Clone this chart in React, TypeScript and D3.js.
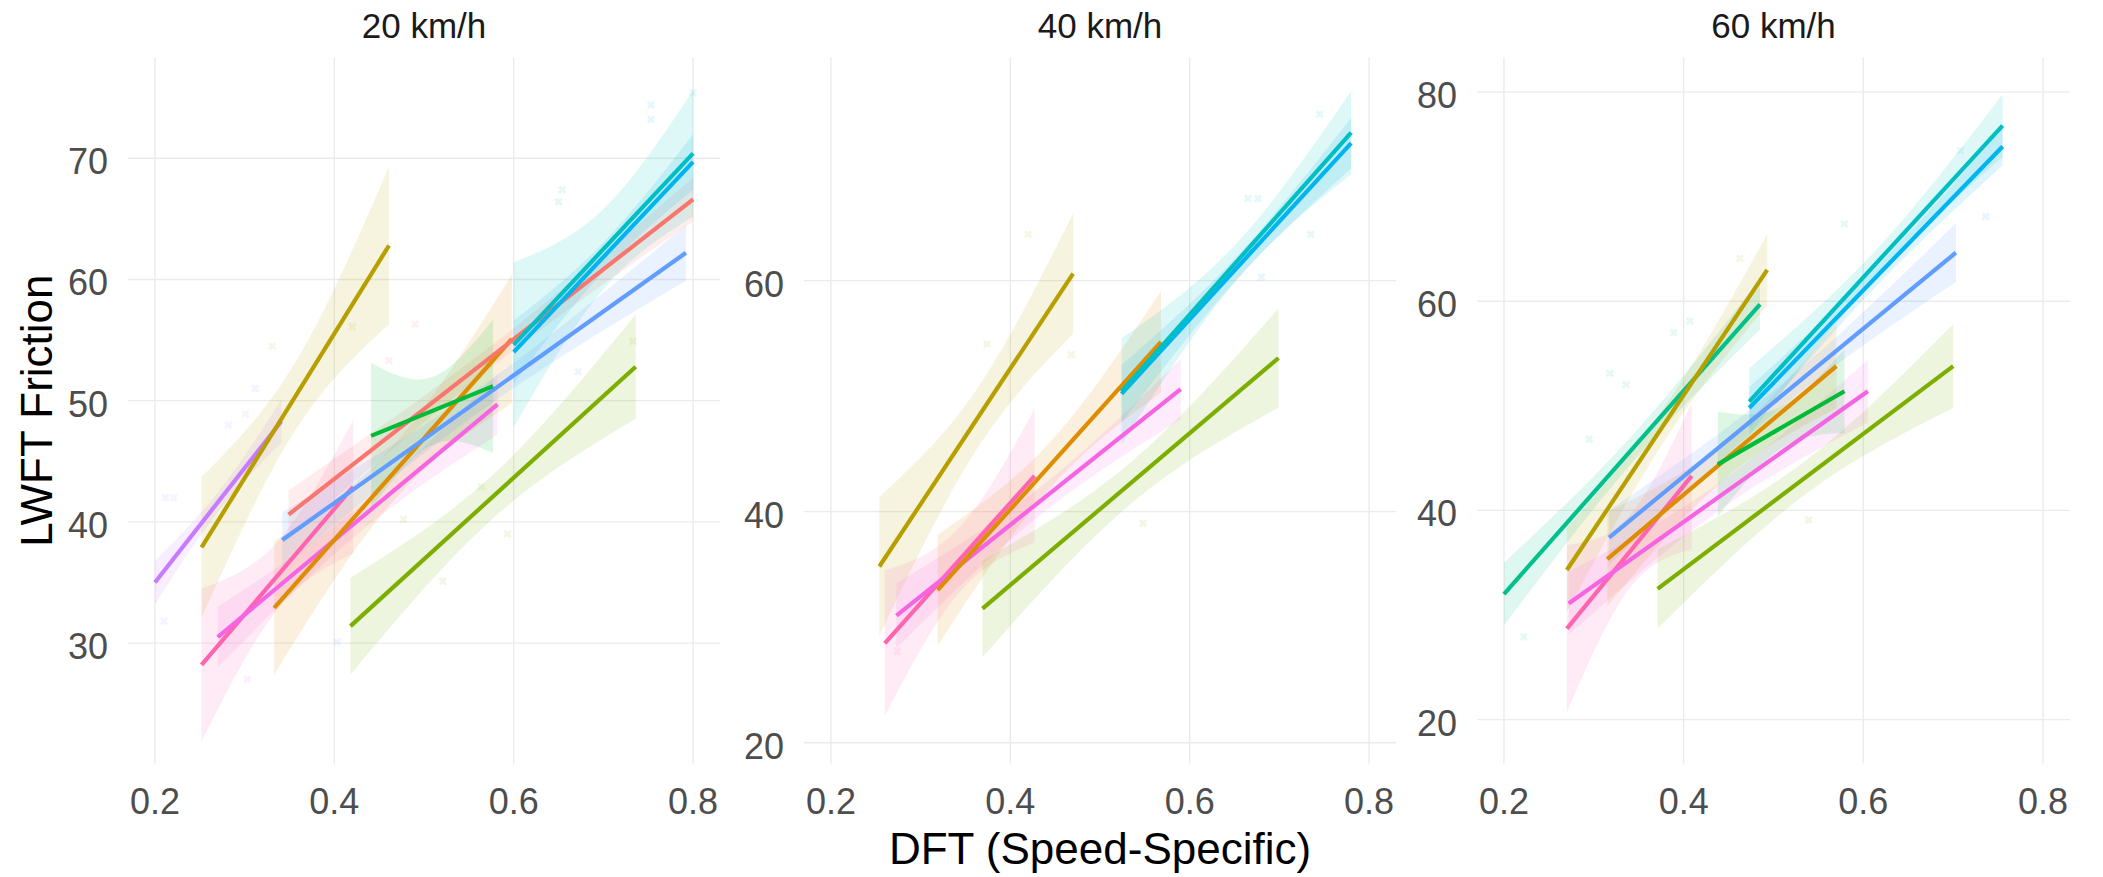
import React from "react";
import * as d3 from "d3";

// ---------- data ----------
const PANEL_TITLES = ["20 km/h", "40 km/h", "60 km/h"];
const GROUP_COLORS = [
  "#F8766D", "#DE8C00", "#B79F00", "#7CAE00", "#00BA38", "#00C08B",
  "#00BFC4", "#00B4F0", "#619CFF", "#C77CFF", "#F564E3", "#FF64B0",
];
const X_DOMAIN = [0.17, 0.83];
const X_TICKS = [0.2, 0.4, 0.6, 0.8];
const Y_DOMAIN_20 = [20.07, 78.3];
const Y_DOMAIN_40 = [18.2, 79.3];
const Y_DOMAIN_60 = [15.8, 83.3];
const Y_TICKS_20 = [30, 40, 50, 60, 70];
const Y_TICKS_40 = [20, 40, 60];
const Y_TICKS_60 = [20, 40, 60, 80];

// fitted lines: [group, x0, y0, x1, y1, seStart, seMid, seEnd]
const FITS_20 = [
  [9, 0.2, 35.0, 0.341, 48.3, 1.8, 0.8, 1.8],
  [2, 0.252, 37.9, 0.461, 62.8, 5.8, 2.8, 6.5],
  [11, 0.252, 28.2, 0.421, 42.9, 6.3, 2.8, 5.5],
  [10, 0.27, 30.5, 0.582, 49.7, 2.5, 1.1, 2.5],
  [1, 0.333, 32.9, 0.598, 55.1, 5.5, 2.3, 5.3],
  [0, 0.349, 40.6, 0.8, 66.6, 2.0, 0.9, 1.8],
  [8, 0.342, 38.5, 0.792, 62.2, 2.3, 1.0, 2.3],
  [4, 0.441, 47.1, 0.577, 51.2, 6.0, 2.8, 5.5],
  [3, 0.418, 31.4, 0.736, 52.8, 4.0, 1.8, 4.3],
  [7, 0.6, 54.0, 0.8, 69.7, 2.6, 1.2, 2.3],
  [6, 0.6, 54.6, 0.8, 70.4, 6.8, 3.3, 5.2],
];
const FITS_40 = [
  [2, 0.254, 35.25, 0.47, 60.6, 6.0, 2.6, 5.2],
  [11, 0.26, 28.6, 0.427, 43.1, 6.3, 2.8, 5.8],
  [10, 0.273, 31.0, 0.59, 50.6, 2.8, 1.2, 2.6],
  [1, 0.319, 33.2, 0.568, 54.7, 4.8, 2.0, 4.4],
  [3, 0.369, 31.6, 0.699, 53.3, 4.2, 1.8, 4.3],
  [7, 0.524, 50.2, 0.78, 71.9, 2.5, 1.0, 2.2],
  [6, 0.524, 50.4, 0.78, 72.8, 4.6, 1.6, 3.6],
];
const FITS_60 = [
  [5, 0.2, 32.0, 0.485, 59.7, 3.0, 1.3, 2.4],
  [2, 0.27, 34.3, 0.493, 63.0, 4.0, 1.6, 3.4],
  [11, 0.27, 28.7, 0.409, 43.3, 8.0, 3.5, 7.0],
  [10, 0.272, 31.1, 0.605, 51.4, 3.0, 1.3, 3.0],
  [1, 0.315, 35.35, 0.57, 53.8, 4.5, 1.8, 4.0],
  [8, 0.317, 37.4, 0.703, 64.65, 2.6, 1.1, 2.8],
  [3, 0.371, 32.5, 0.7, 53.8, 3.8, 1.6, 4.0],
  [4, 0.438, 44.4, 0.579, 51.4, 5.0, 2.0, 4.0],
  [7, 0.473, 49.8, 0.755, 74.8, 2.0, 0.9, 1.8],
  [6, 0.473, 50.4, 0.755, 76.8, 3.2, 1.3, 3.0],
];

// faint raw observations: [group, x, y]
const POINTS_20 = [
  [6, 0.753, 74.4], [6, 0.753, 73.2], [6, 0.8, 75.4], [6, 0.654, 67.4], [6, 0.65, 66.4],
  [9, 0.212, 42.0], [9, 0.221, 42.0], [9, 0.282, 48.0], [9, 0.312, 51.0], [9, 0.301, 48.9],
  [9, 0.21, 31.8], [2, 0.331, 54.5], [2, 0.42, 56.1], [8, 0.403, 30.1], [10, 0.303, 27.0],
  [3, 0.593, 39.0], [3, 0.521, 35.1], [3, 0.564, 42.9], [3, 0.477, 40.2], [0, 0.49, 56.3],
  [0, 0.461, 53.3], [4, 0.572, 53.1], [3, 0.733, 54.9], [8, 0.672, 52.4],
];
const POINTS_40 = [
  [6, 0.745, 74.4], [6, 0.665, 67.1], [6, 0.676, 67.1], [6, 0.735, 64.0], [7, 0.68, 60.3],
  [2, 0.42, 64.0], [2, 0.374, 54.5], [2, 0.468, 53.6], [3, 0.548, 39.0], [11, 0.274, 27.9],
];
const POINTS_60 = [
  [2, 0.4625, 64.1], [6, 0.579, 67.4], [7, 0.736, 68.1], [6, 0.708, 74.4], [5, 0.389, 57.0],
  [5, 0.407, 58.1], [5, 0.318, 53.1], [5, 0.336, 52.0], [5, 0.295, 46.8], [5, 0.222, 27.9],
  [3, 0.539, 39.1],
];

// ---------- layout ----------
const W = 2103;
const H = 877;
const TOP = 57.6;
const BOTTOM = 763.5;
const PANELS = [
  { left: 128, right: 720, yDomain: Y_DOMAIN_20, yTicks: Y_TICKS_20, fits: FITS_20, pts: POINTS_20 },
  { left: 804, right: 1396, yDomain: Y_DOMAIN_40, yTicks: Y_TICKS_40, fits: FITS_40, pts: POINTS_40 },
  { left: 1477, right: 2070, yDomain: Y_DOMAIN_60, yTicks: Y_TICKS_60, fits: FITS_60, pts: POINTS_60 },
];
const FONT = "'Liberation Sans', Arial, Helvetica, sans-serif";

function Panel({ p, title }: any) {
  const x = d3.scaleLinear().domain(X_DOMAIN).range([p.left, p.right]);
  const y = d3.scaleLinear().domain(p.yDomain).range([BOTTOM, TOP]);
  const cx = (p.left + p.right) / 2;
  const cross = d3.symbol().type(d3.symbolCross).size(44)();

  const ribbons = p.fits.map((f: number[], i: number) => {
    const [g, x0, y0, x1, y1, s0, sm, s1] = f;
    const xm = (x0 + x1) / 2;
    const ym = (y0 + y1) / 2;
    const rows = [
      { x: x0, y: y0, s: s0 },
      { x: xm, y: ym, s: sm },
      { x: x1, y: y1, s: s1 },
    ];
    const area = d3
      .area<any>()
      .x((d) => x(d.x))
      .y0((d) => y(d.y - d.s))
      .y1((d) => y(d.y + d.s))
      .curve(d3.curveNatural);
    return (
      <path key={"r" + i} d={area(rows) || ""} fill={GROUP_COLORS[g]} fillOpacity={0.13} stroke="none" />
    );
  });

  const lines = p.fits.map((f: number[], i: number) => {
    const [g, x0, y0, x1, y1] = f;
    const line = d3
      .line<number[]>()
      .x((d) => x(d[0]))
      .y((d) => y(d[1]));
    return (
      <path
        key={"l" + i}
        d={line([[x0, y0], [x1, y1]]) || ""}
        fill="none"
        stroke={GROUP_COLORS[g]}
        strokeWidth={4.2}
        strokeLinecap="butt"
      />
    );
  });

  return (
    <g>
      {p.yTicks.map((t: number) => (
        <line key={"gy" + t} x1={p.left} x2={p.right} y1={y(t)} y2={y(t)} stroke="#EBEBEB" strokeWidth={1.4} />
      ))}
      {X_TICKS.map((t) => (
        <line key={"gx" + t} x1={x(t)} x2={x(t)} y1={TOP} y2={BOTTOM} stroke="#EBEBEB" strokeWidth={1.4} />
      ))}
      {ribbons}
      {p.pts.map((d: number[], i: number) => (
        <path
          key={"p" + i}
          d={cross || ""}
          transform={`translate(${x(d[1])},${y(d[2])}) rotate(45)`}
          fill={GROUP_COLORS[d[0]]}
          fillOpacity={0.1}
        />
      ))}
      {lines}
      {p.yTicks.map((t: number) => (
        <text
          key={"ty" + t}
          x={p.left - 20}
          y={y(t) + 16}
          textAnchor="end"
          fontSize={36}
          fill="#4D4D4D"
          fontFamily={FONT}
        >
          {t}
        </text>
      ))}
      {X_TICKS.map((t) => (
        <text
          key={"tx" + t}
          x={x(t)}
          y={814}
          textAnchor="middle"
          fontSize={36}
          fill="#4D4D4D"
          fontFamily={FONT}
        >
          {t.toFixed(1)}
        </text>
      ))}
      <text x={cx} y={38} textAnchor="middle" fontSize={35} fill="#1A1A1A" fontFamily={FONT}>
        {title}
      </text>
    </g>
  );
}

export default function App() {
  return (
    <div style={{ position: "absolute", left: 0, top: 0 }}>
      <svg width={W} height={H} viewBox={`0 0 ${W} ${H}`} style={{ display: "block", background: "#fff" }}>
        <rect x={0} y={0} width={W} height={H} fill="#fff" />
        {PANELS.map((p, i) => (
          <Panel key={i} p={p} title={PANEL_TITLES[i]} />
        ))}
        <text x={(804 + 1396) / 2} y={864} textAnchor="middle" fontSize={44} fill="#000" fontFamily={FONT}>
          DFT (Speed-Specific)
        </text>
        <text
          transform={`translate(52, ${(TOP + BOTTOM) / 2}) rotate(-90)`}
          textAnchor="middle"
          fontSize={44}
          fill="#000"
          fontFamily={FONT}
        >
          LWFT Friction
        </text>
      </svg>
    </div>
  );
}
